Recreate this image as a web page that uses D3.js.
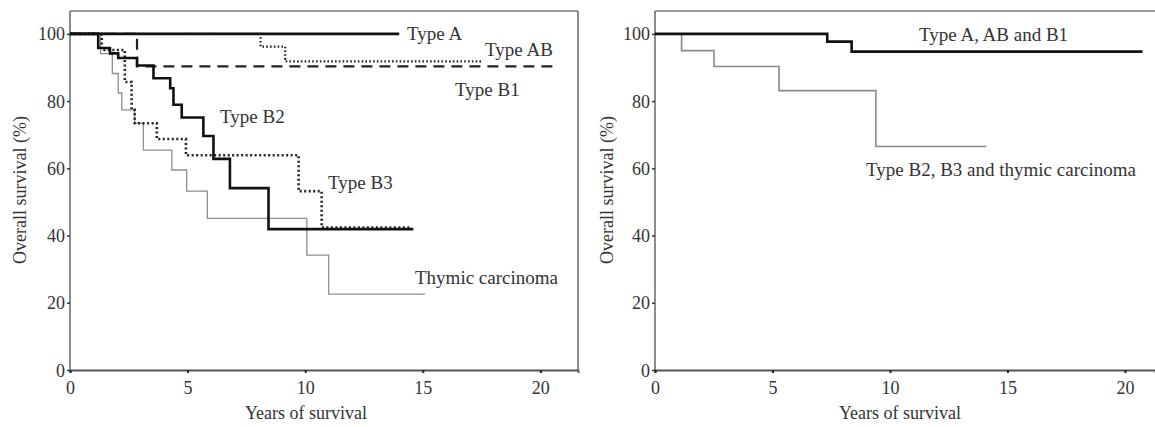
<!DOCTYPE html>
<html>
<head>
<meta charset="utf-8">
<script src="https://cdn.jsdelivr.net/npm/d3@7"></script>
<style>
  html, body { margin: 0; padding: 0; background: #fff; }
  svg { display: block; }
  text { font-family: "Liberation Serif", "Times New Roman", serif; fill: #333; }
</style>
</head>
<body>
<svg id="chart" width="1155" height="427"></svg>
<script>
// ---------- Data (years, overall survival %) ----------
const xTicks = [0, 5, 10, 15, 20];
const yTicks = [0, 20, 40, 60, 80, 100];

// Left panel: by histologic type
const typeA_t = [0, 14.0];
const typeA_s = [100, 100];
const typeAB_t = [0, 8.1, 9.15, 17.5];
const typeAB_s = [100, 96.2, 91.8, 91.8];
const typeB1_t = [0, 2.85, 20.8];
const typeB1_s = [100, 90.3, 90.3];
const typeB2_t = [0, 1.2, 1.7, 2.05, 2.85, 3.55, 4.26, 4.4, 4.75, 5.67, 6.1, 6.8, 8.44, 14.6];
const typeB2_s = [100, 95.8, 94.2, 92.8, 90.6, 86.8, 83.8, 78.9, 75.1, 69.6, 62.8, 54.1, 41.9, 41.9];
const typeB3_t = [0, 1.35, 2.33, 2.62, 2.75, 3.69, 4.93, 9.72, 10.7, 14.5];
const typeB3_s = [100, 95.2, 85.7, 77.4, 73.4, 68.7, 63.9, 53.2, 42.4, 42.4];
const thymic_t = [0, 1.3, 1.8, 2.05, 2.2, 2.75, 3.12, 4.33, 4.96, 5.84, 10.07, 11.0, 15.1];
const thymic_s = [100, 94.1, 88.2, 82.4, 77.4, 73.4, 65.4, 59.5, 53.2, 45.1, 34.2, 22.6, 22.6];

// Right panel: grouped
const groupLow_t = [0, 7.33, 8.37, 20.75];
const groupLow_s = [100, 97.7, 94.7, 94.7];
const groupHigh_t = [0, 1.13, 2.51, 5.28, 9.4, 14.1];
const groupHigh_s = [100, 95.0, 90.3, 83.1, 66.5, 66.5];

const leftLabels = ["Type A", "Type AB", "Type B1", "Type B2", "Type B3", "Thymic carcinoma"];
const rightLabels = ["Type A, AB and B1", "Type B2, B3 and thymic carcinoma"];
const xTitle = "Years of survival";
const yTitle = "Overall survival (%)";

// ---------- Drawing ----------
const svg = d3.select("#chart");
const zip = (t, s) => t.map((v, i) => ({ t: v, s: s[i] }));

const y = d3.scaleLinear().domain([0, 106.8]).range([370, 11]);

function panel(x, opts) {
  const g = svg.append("g");
  const [x0, x1] = x.range();
  // frame
  g.append("line").attr("x1", x0).attr("x2", x0).attr("y1", y(0)).attr("y2", y.range()[1])
    .attr("stroke", "#666").attr("stroke-width", 1.5);
  g.append("line").attr("x1", x0).attr("x2", opts.topEnd).attr("y1", y.range()[1]).attr("y2", y.range()[1])
    .attr("stroke", "#777").attr("stroke-width", 1.5);
  if (opts.rightBorder) {
    g.append("line").attr("x1", x1).attr("x2", x1).attr("y1", y.range()[1]).attr("y2", y(0))
      .attr("stroke", "#666").attr("stroke-width", 1.5);
  }
  // x axis
  const xa = g.append("g").attr("transform", `translate(0,${y(0)})`)
    .call(d3.axisBottom(x).tickValues(xTicks).tickSize(3).tickPadding(8).tickFormat(d3.format("d")));
  xa.select(".domain").attr("stroke", "#555").attr("stroke-width", 1.8);
  xa.selectAll(".tick line").attr("stroke", "#222").attr("stroke-width", 2);
  xa.selectAll("text").style("font-size", "18px").attr("fill", "#333")
    .style("font-family", '"Liberation Serif", serif');
  // y axis
  const ya = g.append("g").attr("transform", `translate(${x0},0)`)
    .call(d3.axisLeft(y).tickValues(yTicks).tickSize(3).tickPadding(2).tickFormat(d3.format("d")));
  ya.select(".domain").remove();
  ya.selectAll(".tick line").attr("stroke", "#333").attr("stroke-width", 1.5);
  ya.selectAll("text").style("font-size", "18px").attr("fill", "#333")
    .style("font-family", '"Liberation Serif", serif').attr("dy", "0.34em");
  // titles
  g.append("text").attr("x", opts.xTitleX).attr("y", 419)
    .attr("text-anchor", "middle").style("font-size", "18px").text(xTitle);
  g.append("text").attr("transform", `translate(${opts.yTitleX},190) rotate(-90)`)
    .attr("text-anchor", "middle").attr("dy", "0.35em").style("font-size", "18px").text(yTitle);
  return g;
}

function curve(g, x, t, s, style) {
  const line = d3.line().x(d => x(d.t)).y(d => y(d.s)).curve(d3.curveStepAfter);
  g.append("path").datum(zip(t, s)).attr("d", line)
    .attr("fill", "none")
    .attr("stroke", style.color)
    .attr("stroke-width", style.width)
    .attr("stroke-dasharray", style.dash || null)
    .attr("stroke-linecap", style.cap || "butt");
}

// Left panel
const xL = d3.scaleLinear().domain([0, 21.6]).range([70, 578]);
const gL = panel(xL, { topEnd: 578, rightBorder: true, yTitleX: 20, xTitleX: 306 });
curve(gL, xL, thymic_t, thymic_s, { color: "#8f8f8f", width: 1.3 });
curve(gL, xL, typeB1_t, typeB1_s, { color: "#222", width: 2.2, dash: "11,7" });
curve(gL, xL, typeAB_t, typeAB_s, { color: "#222", width: 2.3, dash: "1.6,2.2" });
curve(gL, xL, typeB3_t, typeB3_s, { color: "#222", width: 2.6, dash: "2,2.5" });
curve(gL, xL, typeB2_t, typeB2_s, { color: "#111", width: 2.6 });
curve(gL, xL, typeA_t, typeA_s, { color: "#111", width: 2.6 });

const leftLabelPos = [[407, 40], [485, 56], [455, 96], [220, 123], [328, 189], [415, 284]];
leftLabels.forEach((lab, i) => {
  gL.append("text").attr("x", leftLabelPos[i][0]).attr("y", leftLabelPos[i][1])
    .style("font-size", "19px").text(lab);
});

// Right panel
const xR = d3.scaleLinear().domain([0, 21.28]).range([655, 1155]);
const gR = panel(xR, { topEnd: 1155, rightBorder: false, yTitleX: 607, xTitleX: 900 });
curve(gR, xR, groupHigh_t, groupHigh_s, { color: "#8a8a8a", width: 1.6 });
curve(gR, xR, groupLow_t, groupLow_s, { color: "#111", width: 2.6 });

const rightLabelPos = [[919, 41], [866, 176]];
rightLabels.forEach((lab, i) => {
  gR.append("text").attr("x", rightLabelPos[i][0]).attr("y", rightLabelPos[i][1])
    .style("font-size", "19px").text(lab);
});
</script>
</body>
</html>
